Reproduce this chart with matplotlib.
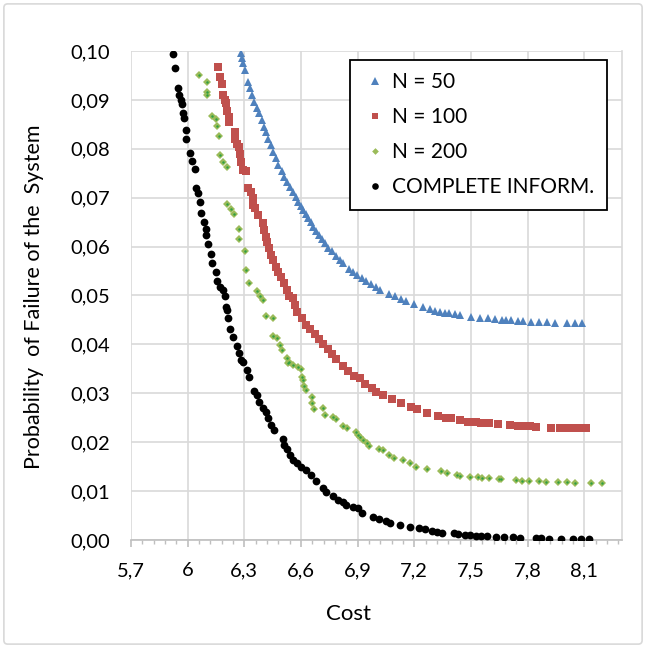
import matplotlib
matplotlib.use("Agg")
import matplotlib.pyplot as plt
from matplotlib.ticker import MultipleLocator, FuncFormatter
from matplotlib.patches import FancyBboxPatch

plt.rcParams['font.family'] = ['Lato', 'DejaVu Sans']

# N = 50
cost_50 = [6.282, 6.287, 6.294, 6.305, 6.321, 6.330, 6.342, 6.352, 6.365, 6.377,
           6.392, 6.404, 6.414, 6.426, 6.439, 6.453, 6.467, 6.481, 6.497, 6.511,
           6.527, 6.543, 6.559, 6.572, 6.585, 6.598, 6.612, 6.625, 6.638, 6.652,
           6.665, 6.680, 6.696, 6.711, 6.726, 6.744, 6.762, 6.785, 6.806, 6.823,
           6.853, 6.875, 6.898, 6.922, 6.947, 6.972, 6.996, 7.017, 7.067, 7.097,
           7.132, 7.155, 7.197, 7.247, 7.282, 7.308, 7.335, 7.361, 7.384, 7.414,
           7.444, 7.503, 7.550, 7.590, 7.626, 7.667, 7.688, 7.714, 7.749, 7.776,
           7.816, 7.860, 7.903, 7.943, 8.011, 8.049, 8.090]
prob_50 = [0.0995, 0.0986, 0.0975, 0.0961, 0.0937, 0.0925, 0.0910, 0.0896, 0.0883, 0.0873,
           0.0859, 0.0845, 0.0834, 0.0821, 0.0808, 0.0794, 0.0781, 0.0767, 0.0755, 0.0743,
           0.0733, 0.0722, 0.0712, 0.0702, 0.0692, 0.0683, 0.0675, 0.0666, 0.0658, 0.0650,
           0.0641, 0.0632, 0.0624, 0.0615, 0.0607, 0.0598, 0.0590, 0.0581, 0.0573, 0.0566,
           0.0555, 0.0548, 0.0542, 0.0536, 0.0530, 0.0524, 0.0518, 0.0511, 0.0503, 0.0498,
           0.0492, 0.0489, 0.0483, 0.0477, 0.0472, 0.0469, 0.0467, 0.0465, 0.0464, 0.0462,
           0.0460, 0.0457, 0.0454, 0.0453, 0.0452, 0.0450, 0.0450, 0.0450, 0.0448, 0.0448,
           0.0446, 0.0446, 0.0445, 0.0444, 0.0444, 0.0444, 0.0443]

# N = 100
cost_100 = [6.159, 6.171, 6.180, 6.188, 6.196, 6.203, 6.210, 6.219, 6.220, 6.250,
            6.250, 6.262, 6.271, 6.277, 6.280, 6.291, 6.308, 6.321, 6.333, 6.344,
            6.347, 6.356, 6.374, 6.400, 6.404, 6.414, 6.418, 6.432, 6.441, 6.453,
            6.467, 6.479, 6.492, 6.510, 6.524, 6.538, 6.556, 6.568, 6.580, 6.608,
            6.626, 6.647, 6.674, 6.696, 6.717, 6.744, 6.762, 6.785, 6.823, 6.847,
            6.883, 6.912, 6.941, 6.974, 7.000, 7.035, 7.084, 7.132, 7.181, 7.217,
            7.269, 7.326, 7.370, 7.397, 7.444, 7.485, 7.529, 7.556, 7.596, 7.643,
            7.709, 7.749, 7.785, 7.811, 7.847, 7.926, 7.970, 8.005, 8.040, 8.076,
            8.111]
prob_100 = [0.0967, 0.0946, 0.0933, 0.0910, 0.0900, 0.0893, 0.0878, 0.0866, 0.0855, 0.0834,
            0.0820, 0.0809, 0.0804, 0.0789, 0.0774, 0.0757, 0.0755, 0.0719, 0.0712, 0.0699,
            0.0686, 0.0678, 0.0665, 0.0648, 0.0634, 0.0620, 0.0610, 0.0597, 0.0583, 0.0573,
            0.0559, 0.0549, 0.0538, 0.0525, 0.0511, 0.0498, 0.0494, 0.0481, 0.0467, 0.0453,
            0.0440, 0.0431, 0.0421, 0.0410, 0.0401, 0.0390, 0.0380, 0.0370, 0.0356, 0.0346,
            0.0335, 0.0331, 0.0320, 0.0311, 0.0303, 0.0297, 0.0289, 0.0280, 0.0272, 0.0267,
            0.0260, 0.0254, 0.0250, 0.0249, 0.0245, 0.0242, 0.0241, 0.0239, 0.0239, 0.0237,
            0.0235, 0.0234, 0.0233, 0.0233, 0.0232, 0.0230, 0.0230, 0.0229, 0.0229, 0.0228,
            0.0228]

# N = 200
cost_200 = [6.061, 6.101, 6.101, 6.104, 6.127, 6.150, 6.157, 6.164, 6.171, 6.188,
            6.206, 6.210, 6.231, 6.245, 6.271, 6.271, 6.305, 6.307, 6.323, 6.365,
            6.383, 6.397, 6.413, 6.453, 6.450, 6.471, 6.488, 6.497, 6.524, 6.529,
            6.538, 6.559, 6.585, 6.598, 6.603, 6.612, 6.615, 6.626, 6.656, 6.661,
            6.670, 6.717, 6.726, 6.770, 6.785, 6.823, 6.844, 6.890, 6.903, 6.915,
            6.929, 6.950, 6.961, 7.014, 7.035, 7.067, 7.092, 7.138, 7.176, 7.208,
            7.268, 7.339, 7.374, 7.426, 7.444, 7.497, 7.538, 7.561, 7.594, 7.649,
            7.661, 7.737, 7.772, 7.807, 7.859, 7.899, 7.961, 8.008, 8.049, 8.138,
            8.196]
prob_200 = [0.0951, 0.0937, 0.0917, 0.0910, 0.0867, 0.0861, 0.0847, 0.0827, 0.0787, 0.0774,
            0.0763, 0.0687, 0.0676, 0.0667, 0.0635, 0.0615, 0.0592, 0.0553, 0.0525, 0.0509,
            0.0498, 0.0491, 0.0459, 0.0453, 0.0418, 0.0414, 0.0399, 0.0389, 0.0372, 0.0361,
            0.0363, 0.0358, 0.0353, 0.0349, 0.0334, 0.0327, 0.0315, 0.0307, 0.0293, 0.0280,
            0.0267, 0.0269, 0.0256, 0.0252, 0.0247, 0.0233, 0.0228, 0.0221, 0.0215, 0.0211,
            0.0204, 0.0199, 0.0192, 0.0186, 0.0183, 0.0174, 0.0167, 0.0164, 0.0158, 0.0150,
            0.0145, 0.0142, 0.0136, 0.0133, 0.0131, 0.0129, 0.0128, 0.0127, 0.0127, 0.0124,
            0.0124, 0.0123, 0.0121, 0.0120, 0.0121, 0.0119, 0.0118, 0.0118, 0.0117, 0.0117,
            0.0117]

# complete information
cost_ci = [5.921, 5.934, 5.950, 5.954, 5.963, 5.970, 5.975, 5.982, 5.989, 5.993,
           6.011, 6.021, 6.037, 6.042, 6.053, 6.063, 6.069, 6.085, 6.095, 6.098,
           6.109, 6.125, 6.130, 6.150, 6.157, 6.169, 6.188, 6.199, 6.204, 6.208,
           6.212, 6.225, 6.240, 6.259, 6.271, 6.284, 6.291, 6.312, 6.324, 6.352,
           6.365, 6.379, 6.400, 6.414, 6.426, 6.441, 6.458, 6.503, 6.511, 6.527,
           6.541, 6.559, 6.580, 6.599, 6.626, 6.652, 6.679, 6.717, 6.732, 6.770,
           6.797, 6.823, 6.841, 6.873, 6.903, 6.921, 6.979, 7.014, 7.053, 7.074,
           7.123, 7.176, 7.224, 7.257, 7.296, 7.321, 7.349, 7.409, 7.432, 7.467,
           7.494, 7.529, 7.556, 7.587, 7.631, 7.675, 7.723, 7.758, 7.847, 7.873,
           7.913, 7.979, 8.040, 8.085, 8.125]
prob_ci = [0.0993, 0.0965, 0.0924, 0.0909, 0.0900, 0.0891, 0.0874, 0.0862, 0.0838, 0.0821,
           0.0791, 0.0775, 0.0759, 0.0720, 0.0709, 0.0692, 0.0669, 0.0650, 0.0635, 0.0624,
           0.0605, 0.0584, 0.0567, 0.0549, 0.0530, 0.0517, 0.0511, 0.0498, 0.0477, 0.0470,
           0.0453, 0.0432, 0.0416, 0.0397, 0.0382, 0.0368, 0.0363, 0.0348, 0.0333, 0.0305,
           0.0297, 0.0283, 0.0269, 0.0261, 0.0249, 0.0235, 0.0224, 0.0207, 0.0194, 0.0186,
           0.0174, 0.0164, 0.0157, 0.0150, 0.0143, 0.0133, 0.0121, 0.0106, 0.0099, 0.0089,
           0.0082, 0.0078, 0.0072, 0.0068, 0.0065, 0.0055, 0.0048, 0.0042, 0.0039, 0.0035,
           0.0031, 0.0026, 0.0025, 0.0022, 0.0019, 0.0017, 0.0015, 0.0014, 0.0012, 0.0010,
           0.0010, 0.0009, 0.0009, 0.0008, 0.0007, 0.0007, 0.0006, 0.0005, 0.0004, 0.0004,
           0.0003, 0.0003, 0.0003, 0.0002, 0.0002]

fig = plt.figure(figsize=(6.46, 6.48), dpi=100)
ax = fig.add_axes([0.2028, 0.1667, 0.76, 0.7546])

# chart area border
fig.patches.append(FancyBboxPatch((0.006, 0.006), 0.988, 0.988, boxstyle="round,pad=0,rounding_size=0.006",
                                  transform=fig.transFigure, fill=False, edgecolor='#d9d9d9', linewidth=1.2))

ax.plot(cost_50, prob_50, '^', color='#4F81BD', markersize=6.2, markeredgewidth=0, label='N = 50', zorder=3)
ax.plot(cost_100, prob_100, 's', color='#C0504D', markersize=5.6, markeredgewidth=0, label='N = 100', zorder=3)
ax.plot(cost_200, prob_200, 'D', color='#9BBB59', markersize=4.0, markeredgewidth=0, label='N = 200', zorder=3)
ax.plot(cost_200, prob_200, '.', color='#2EA043', markersize=1.5, zorder=4)
ax.plot(cost_ci, prob_ci, 'o', color='black', markersize=5.6, markeredgewidth=0, label='COMPLETE INFORM.', zorder=3)

ax.set_xlim(5.7, 8.3)
ax.set_ylim(0, 0.10)
ax.xaxis.set_major_locator(MultipleLocator(0.3))
ax.xaxis.set_minor_locator(MultipleLocator(0.06))
ax.yaxis.set_major_locator(MultipleLocator(0.01))

ax.xaxis.set_major_formatter(FuncFormatter(lambda v, p: ('%g' % round(v, 1)).replace('.', ',')))
ax.yaxis.set_major_formatter(FuncFormatter(lambda v, p: ('%.2f' % v).replace('.', ',')))

ax.grid(True, which='major', color='#d9d9d9', linewidth=1.2, zorder=0)
ax.set_axisbelow(True)
for s in ['top', 'left']:
    ax.spines[s].set_visible(False)
ax.spines['right'].set_color('#d9d9d9')
ax.spines['right'].set_linewidth(1.2)
ax.spines['bottom'].set_color('#bfbfbf')
ax.spines['bottom'].set_linewidth(1.2)

ax.tick_params(axis='x', which='major', length=5, color='#bfbfbf', width=1.2, labelsize=14.5, pad=11)
ax.tick_params(axis='x', which='minor', length=3, color='#bfbfbf', width=1.0)
ax.tick_params(axis='y', length=0, labelsize=14.5, pad=15)

ax.set_xlabel('Cost', fontsize=16)
ax.set_ylabel('Probability  of Failure of the  System', fontsize=15.5)
ax.xaxis.set_label_coords(0.444, -0.13)
ax.yaxis.set_label_coords(-0.178, 0.497)

leg = ax.legend(loc='upper right', bbox_to_anchor=(0.9695, 0.9816), borderaxespad=0, fancybox=False,
                edgecolor='black', framealpha=1, fontsize=15, handletextpad=0.25, labelspacing=0.72,
                borderpad=0.6, handlelength=1.2, markerscale=0.85)
leg.get_frame().set_linewidth(1.3)

plt.savefig('out.png', dpi=100)
